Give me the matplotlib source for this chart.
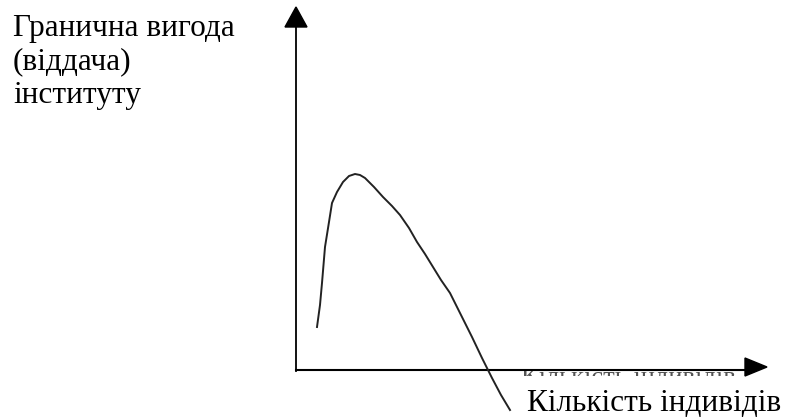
import matplotlib
matplotlib.use("Agg")
import matplotlib.pyplot as plt
from matplotlib.patches import Polygon
from matplotlib.transforms import Bbox, TransformedBbox

# Curve (pixel coordinates, y downward)
curve_x = [317, 320, 322, 325, 329, 332, 337, 343, 349, 355, 360, 365, 374, 383, 392, 400, 409, 417, 425, 433, 441, 450, 461, 472, 482, 492, 501, 510]
curve_y = [327, 305, 283, 247, 222, 203, 192, 182, 176, 174, 175, 178, 187, 197, 206, 215, 228, 242, 254, 267, 280, 293, 315, 337, 358, 378, 395, 410]

y_label_lines = ["Гранична вигода", "(віддача)", "інституту"]
x_label = "Кількість індивідів"

W, H = 789, 417
fig = plt.figure(figsize=(W / 100, H / 100), dpi=100)
ax = fig.add_axes([0, 0, 1, 1])
ax.set_xlim(0, W)
ax.set_ylim(H, 0)
ax.axis("off")

font = ["Liberation Serif", "DejaVu Serif"]

# partly hidden text just under the x axis (only its top shows)
hidden = ax.text(521, 384, x_label, fontsize=19, family=font, va="baseline", ha="left",
                 color="#555555", zorder=1)
hidden.set_clip_box(TransformedBbox(Bbox([[515, 371], [748, 376]]), ax.transData))
hidden.set_clip_on(True)

# axes lines
ax.plot([296, 296], [371, 25], color="black", lw=1.3, zorder=3)
ax.plot([296, 750], [370, 370], color="black", lw=1.5, zorder=3)
ax.add_patch(Polygon([[296, 7], [285, 27], [307, 27]], closed=True, color="black", zorder=3))
ax.add_patch(Polygon([[767, 367], [745, 358], [745, 376]], closed=True, color="black", zorder=3))

# curve
ax.plot(curve_x, curve_y, color="#222222", lw=1.4, zorder=3)

# texts
baselines = [36, 69, 103]
for t, b in zip(y_label_lines, baselines):
    ax.text(13, b, t, fontsize=22.5, family=font, va="baseline", ha="left", zorder=4)
ax.text(527, 411, x_label, fontsize=22.5, family=font, va="baseline", ha="left", zorder=4)

fig.savefig("out.png", dpi=100)
